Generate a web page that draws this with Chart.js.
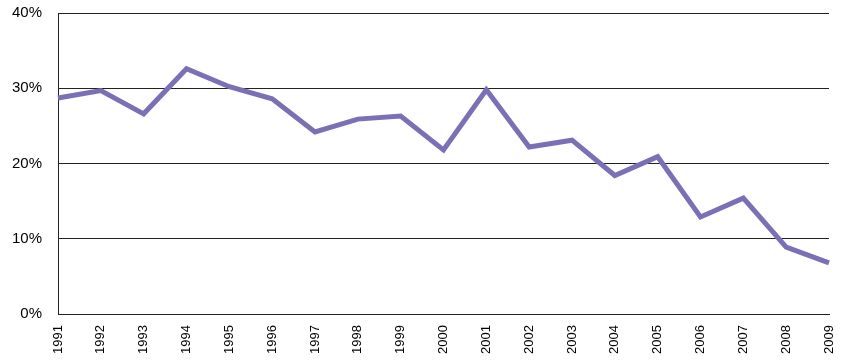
<!DOCTYPE html>
<html>
<head>
<meta charset="utf-8">
<script src="https://cdn.jsdelivr.net/npm/chart.js@4/dist/chart.umd.min.js"></script>
<style>
html,body{margin:0;padding:0;background:#fff;}
#wrap{width:846px;height:362px;}
</style>
</head>
<body>
<div id="wrap"><canvas id="c" width="846" height="362"></canvas></div>
<script>
const years = ["1991","1992","1993","1994","1995","1996","1997","1998","1999","2000","2001","2002","2003","2004","2005","2006","2007","2008","2009"];
const values = [28.7,29.7,26.6,32.6,30.2,28.6,24.2,25.9,26.3,21.8,29.8,22.2,23.1,18.4,20.9,12.9,15.4,8.9,6.8];
const yTicks = [0,10,20,30,40];

new Chart(document.getElementById('c'), {
  type: 'line',
  data: {
    labels: years,
    datasets: [{
      data: values,
      borderColor: '#7c6fb6',
      borderWidth: 5,
      pointRadius: 0,
      tension: 0,
      fill: false
    }]
  },
  options: {
    responsive: false,
    animation: false,
    layout: { padding: 0 },
    plugins: { legend: { display: false }, tooltip: { enabled: false } },
    scales: {
      x: {
        offset: false,
        grid: { display: false, drawTicks: false },
        border: { display: true, color: '#222', width: 1 },
        ticks: {
          color: '#000',
          font: { family: 'Liberation Sans, Arial', size: 13 },
          maxRotation: 90, minRotation: 90,
          padding: 11,
          autoSkip: false
        },
        afterFit: (axis) => { axis.height = 48; axis.paddingLeft = 0; axis.paddingRight = 17; }
      },
      y: {
        min: 0, max: 40,
        afterBuildTicks: (axis) => { axis.ticks = yTicks.map(v => ({ value: v })); },
        grid: { color: '#222', lineWidth: 1, drawTicks: false },
        border: { display: true, color: '#222', width: 1 },
        ticks: {
          color: '#000',
          font: { family: 'Liberation Sans, Arial', size: 15 },
          padding: 16,
          callback: (v) => v + '%'
        },
        afterFit: (axis) => { axis.width = 58; axis.paddingTop = 13; axis.paddingBottom = 0; }
      }
    }
  }
});
</script>
</body>
</html>
